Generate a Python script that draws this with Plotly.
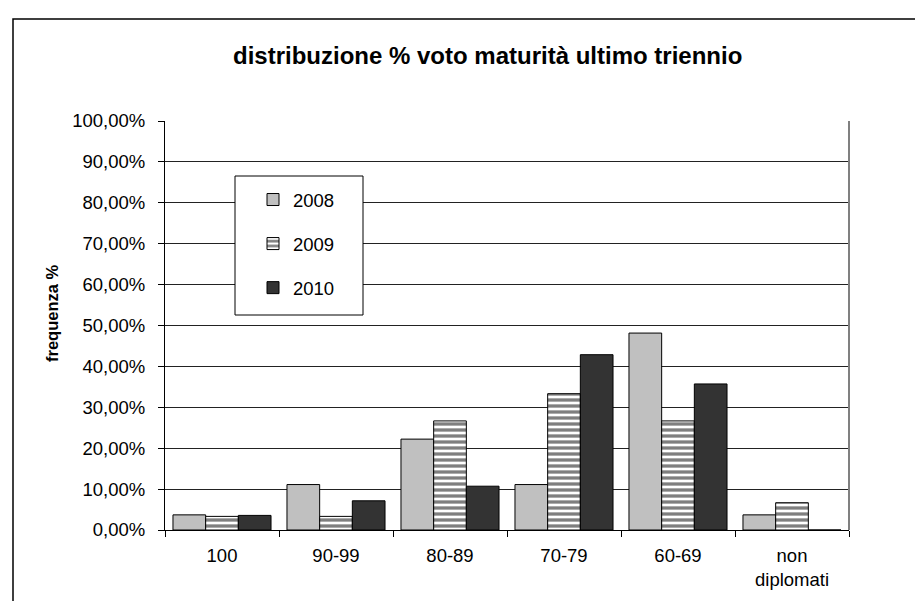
import plotly.graph_objects as go

categories = ["100", "90-99", "80-89", "70-79", "60-69", "non<br>diplomati"]
series_names = ["2008", "2009", "2010"]
values_2008 = [0.0370, 0.1111, 0.2222, 0.1111, 0.4815, 0.0370]
values_2009 = [0.0333, 0.0333, 0.2667, 0.3333, 0.2667, 0.0667]
values_2010 = [0.0357, 0.0714, 0.1071, 0.4286, 0.3571, 0.0]
y_ticks = [0, 0.1, 0.2, 0.3, 0.4, 0.5, 0.6, 0.7, 0.8, 0.9, 1.0]

W, H = 923, 601
L, R, T, B = 157, 841, 113, 522  # plot area pixels

def px(x):
    return (x - L) / (R - L)

def py(y):
    return (B - y) / (B - T)

fig = go.Figure()
fig.add_trace(go.Bar(
    x=categories, y=values_2008, name=series_names[0], legendgroup="a",
    marker=dict(color="#C0C0C0", line=dict(color="#000000", width=1)),
))
fig.add_trace(go.Bar(
    x=categories, y=values_2009, name=series_names[1], legendgroup="b",
    marker=dict(color="#FFFFFF", line=dict(color="#000000", width=1),
                pattern=dict(shape="-", fgcolor="#000000", bgcolor="#FFFFFF",
                             size=6, solidity=0.55, fillmode="overlay")),
))
fig.add_trace(go.Bar(
    x=categories, y=values_2010, name=series_names[2], legendgroup="c",
    marker=dict(color="#333333", line=dict(color="#000000", width=1)),
))

font = "Liberation Sans, Arial, sans-serif"
fs = 18.5

fig.update_layout(
    width=W, height=H,
    margin=dict(l=L, r=W - R, t=T, b=H - B, pad=0),
    paper_bgcolor="white", plot_bgcolor="white",
    separators=",.",
    barmode="group", bargap=0.14, bargroupgap=0,
    font=dict(family=font, size=fs, color="#000000"),
    showlegend=True,
    legend=dict(
        x=px(245), y=py(173), xanchor="left", yanchor="top",
        bgcolor="rgba(0,0,0,0)", borderwidth=0,
        font=dict(family=font, size=fs, color="#000000"),
        tracegroupgap=17, itemwidth=30,
    ),
    xaxis=dict(
        type="category", range=[-0.5, 5.5],
        showline=True, linecolor="#000000", linewidth=1,
        ticks="outside", tickson="boundaries", ticklen=6, tickcolor="#000000",
        tickfont=dict(family=font, size=fs, color="#000000"),
        ticklabelstandoff=9,
        showgrid=False,
    ),
    yaxis=dict(
        range=[0, 1.0], tickvals=y_ticks, tickformat=".2%",
        showline=True, linecolor="#000000", linewidth=1,
        ticks="outside", ticklen=6, tickcolor="#000000",
        tickfont=dict(family=font, size=fs, color="#000000"),
        ticklabelstandoff=9,
        showgrid=True, gridcolor="#222222", gridwidth=1,
        zeroline=False,
    ),
    shapes=[
        dict(type="rect", xref="paper", yref="paper",
             x0=px(5), x1=px(930), y0=py(610), y1=py(11),
             line=dict(color="#000000", width=1.5), fillcolor="rgba(0,0,0,0)", layer="below"),
        dict(type="line", xref="paper", yref="paper",
             x0=1, x1=1, y0=0, y1=1,
             line=dict(color="#808080", width=2)),
        dict(type="rect", xref="paper", yref="paper",
             x0=px(227), x1=px(355), y0=py(307), y1=py(168),
             line=dict(color="#000000", width=1), fillcolor="#FFFFFF", layer="above"),
    ],
    annotations=[
        dict(text="<b>distribuzione % voto maturità ultimo triennio</b>",
             xref="paper", yref="paper", x=px(479), y=py(47),
             xanchor="center", yanchor="middle", showarrow=False,
             font=dict(family=font, size=24, color="#000000")),
        dict(text="<b>frequenza %</b>", textangle=-90,
             xref="paper", yref="paper", x=px(44), y=py(305),
             xanchor="center", yanchor="middle", showarrow=False,
             font=dict(family=font, size=16.5, color="#000000")),
    ],
)

fig.write_html("out.html")
